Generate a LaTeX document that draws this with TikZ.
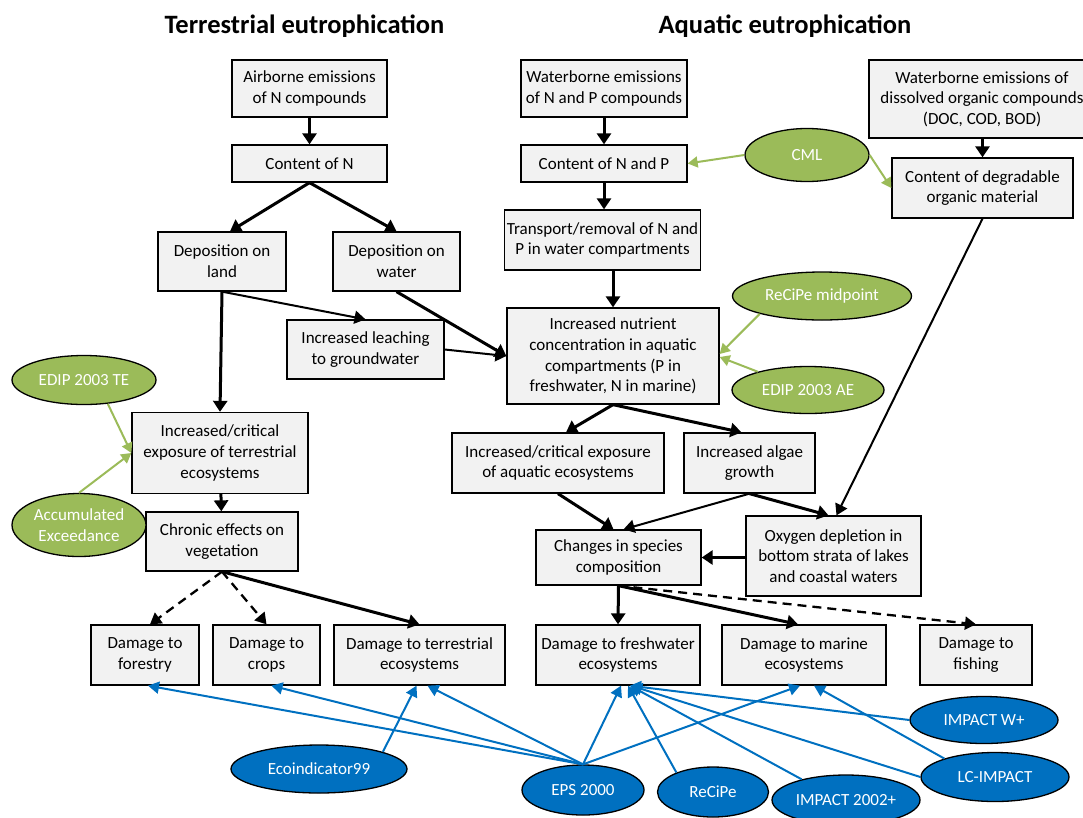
\documentclass[tikz,border=0pt]{standalone}
\usepackage{fontspec}
\setmainfont{Carlito}
\usetikzlibrary{arrows.meta,shapes.geometric,calc}
\definecolor{boxfill}{HTML}{F2F2F2}
\definecolor{lcagreen}{HTML}{9BBB59}
\definecolor{lcablue}{HTML}{0070C0}
\begin{document}
\begin{tikzpicture}[x=1pt,y=-1pt,
  font=\fontsize{17}{20.7}\selectfont,
  box/.style={draw=black, line width=1.3pt, fill=boxfill, align=center, inner sep=2pt},
  ell/.style={ellipse, draw=black, line width=1.3pt, text=white, align=center, inner sep=0pt},
  greenell/.style={ell, fill=lcagreen},
  blueell/.style={ell, fill=lcablue},
  thickarrow/.style={line width=3pt, -{Triangle[length=11pt,width=14pt]}},
  thinarrow/.style={line width=2pt, -{Triangle[length=11pt,width=13pt]}},
  dasharrow/.style={line width=2.3pt, dash pattern=on 9pt off 6pt, -{Triangle[length=11pt,width=13pt]}},
  grarrow/.style={draw=lcagreen, line width=2pt, -{Triangle[length=10pt,width=11pt]}},
  bluearrow/.style={draw=lcablue, line width=2pt, -{Triangle[length=11pt,width=12pt]}},
  titletext/.style={font=\fontsize{26.5}{30}\selectfont\bfseries, anchor=base}
]
\useasboundingbox (0,0) rectangle (1083,817);
\clip (0,0) rectangle (1083,817);

% titles (descenders cut as in the reference)
\begin{scope}
\clip (0,0) rectangle (1083,36);
\node[titletext] (ttl1) at (304.5,33) {Terrestrial eutrophication};
\node[titletext] (ttl2) at (785,33) {Aquatic eutrophication};
\end{scope}

% terrestrial boxes
\node[box, minimum width=155pt, minimum height=57pt] (air) at (309.5,88.5) {Airborne emissions\\of N compounds};
\node[box, minimum width=155pt, minimum height=37pt] (cN) at (309.5,163.5) {Content of N};
\node[box, minimum width=128pt, minimum height=59pt] (dland) at (222,261.5) {Deposition on\\land};
\node[box, minimum width=127pt, minimum height=59pt] (dwater) at (396.5,261.5) {Deposition on\\water};
\node[box, minimum width=157pt, minimum height=59pt] (leach) at (365.5,349.5) {Increased leaching\\to groundwater};
\node[box, minimum width=176pt, minimum height=81pt] (iterr) at (220,453) {Increased/critical\\exposure of terrestrial\\ecosystems};
\node[box, minimum width=152pt, minimum height=59pt] (chronic) at (222,541.5) {Chronic effects on\\vegetation};
\node[box, minimum width=108pt, minimum height=60pt] (forestry) at (145,655) {Damage to\\forestry};
\node[box, minimum width=107pt, minimum height=60pt] (crops) at (266.5,655) {Damage to\\crops};
\node[box, minimum width=171pt, minimum height=60pt] (terreco) at (419.5,655) {Damage to terrestrial\\ecosystems};

% aquatic boxes
\node[box, minimum width=166pt, minimum height=57pt] (wNP) at (604,88.5) {Waterborne emissions\\of N and P compounds};
\node[box, minimum width=166pt, minimum height=37pt] (cNP) at (604,163.5) {Content of N and P};
\node[box, minimum width=195pt, minimum height=60pt] (transp) at (602.5,240) {Transport/removal of N and\\P in water compartments};
\node[box, minimum width=226pt, minimum height=78pt] (wDOC) at (982,99) {Waterborne emissions of\\dissolved organic compounds\\(DOC, COD, BOD)};
\node[box, minimum width=181pt, minimum height=60pt] (cdeg) at (982.5,188) {Content of degradable\\organic material};
\node[box, minimum width=212pt, minimum height=96pt] (inut) at (613,356) {Increased nutrient\\concentration in aquatic\\compartments (P in\\freshwater, N in marine)};
\node[box, minimum width=212pt, minimum height=60pt] (iaq) at (558,463) {Increased/critical exposure\\of aquatic ecosystems};
\node[box, minimum width=131pt, minimum height=60pt] (algae) at (749.5,463) {Increased algae\\growth};
\node[box, minimum width=175pt, minimum height=80pt] (oxy) at (833.5,556) {Oxygen depletion in\\bottom strata of lakes\\and coastal waters};
\node[box, minimum width=165pt, minimum height=55pt] (changes) at (618.5,557.5) {Changes in species\\composition};
\node[box, minimum width=164pt, minimum height=60pt] (fresh) at (618,655) {Damage to freshwater\\ecosystems};
\node[box, minimum width=164pt, minimum height=60pt] (marine) at (804,655) {Damage to marine\\ecosystems};
\node[box, minimum width=112pt, minimum height=60pt] (fishing) at (976,655) {Damage to\\fishing};

% green method ellipses
\node[greenell, minimum width=144pt, minimum height=49pt] (edipTE) at (84,380) {\makebox[0pt]{EDIP 2003 TE}};
\node[greenell, minimum width=134pt, minimum height=63pt] (accum) at (79,525) {Accumulated\\Exceedance};
\node[greenell, minimum width=124pt, minimum height=53pt] (cml) at (807,155) {\makebox[0pt]{CML}};
\node[greenell, minimum width=179pt, minimum height=48pt] (recmid) at (822,296) {\makebox[0pt]{ReCiPe midpoint}};
\node[greenell, minimum width=152pt, minimum height=47pt] (edipAE) at (808,390) {\makebox[0pt]{EDIP 2003 AE}};

% blue method ellipses
\node[blueell, minimum width=176pt, minimum height=48pt] (eco99) at (319,769) {\makebox[0pt]{Ecoindicator99}};
\node[blueell, minimum width=148pt, minimum height=47pt] (impW) at (984,720) {\makebox[0pt]{IMPACT W+}};
\node[blueell, minimum width=148pt, minimum height=49pt] (lc) at (995,777) {\makebox[0pt]{LC-IMPACT}};
\node[blueell, minimum width=122pt, minimum height=50pt] (eps) at (583,790) {\makebox[0pt]{EPS 2000}};
\node[blueell, minimum width=111pt, minimum height=50pt] (recipe) at (713,792) {\makebox[0pt]{ReCiPe}};
\node[blueell, minimum width=148pt, minimum height=50pt] (imp2002) at (846,800) {\makebox[0pt]{IMPACT 2002+}};

% terrestrial chain
\draw[thickarrow] (air) -- (cN);
\draw[thickarrow] (cN.south) -- ($(dland.north)+(8,0)$);
\draw[thickarrow] (cN.south) -- (dwater.north);
\draw[thickarrow] (dland.south) -- (iterr.north);
\draw[thinarrow] (dland.south) -- (leach.north);
\draw[thickarrow] (dwater.south) -- (inut.west);
\draw[thinarrow] (leach.east) -- (inut.west);
\draw[thickarrow] (iterr) -- (chronic);
\draw[dasharrow] (chronic.south) -- ($(forestry.north)+(5,0)$);
\draw[dasharrow] (chronic.south) -- (crops.north);
\draw[thickarrow] (chronic.south) -- (terreco.north);

% aquatic chain
\draw[thickarrow] (wNP) -- (cNP);
\draw[thickarrow] (cNP.south) -- (cNP.south |- transp.north);
\draw[thickarrow] (transp.south -| inut.north) -- (inut.north);
\draw[thickarrow] (wDOC.south -| cdeg.north) -- (cdeg.north);
\draw[thinarrow] (cdeg.south) -- ($(oxy.north)+(3,0)$);
\draw[thickarrow] (inut.south) -- ($(iaq.north)+(8,0)$);
\draw[thickarrow] (inut.south) -- ($(algae.north)+(-8,0)$);
\draw[thickarrow] (iaq.south) -- ($(changes.north)+(-5,0)$);
\draw[thinarrow] (algae.south) -- ($(changes.north)+(5,0)$);
\draw[thickarrow] (algae.south) -- ($(oxy.north)+(-5,0)$);
\draw[thickarrow] (oxy.west |- changes.east) -- (changes.east);
\draw[thickarrow] (changes.south) -- (fresh.north);
\draw[thickarrow] (changes.south) -- ($(marine.north)+(-6,0)$);
\draw[dasharrow] (changes.south) -- (fishing.north);

% green method links
\draw[grarrow] (cml.west) -- (cNP.east);
\draw[grarrow] (cml.east) -- (cdeg.west);
\draw[grarrow] (recmid.196) -- ($(inut.east)+(0,-2)$);
\draw[grarrow] (edipAE.160) -- ($(inut.east)+(0,1)$);
\draw[grarrow] (edipTE.315) -- (iterr.west);
\draw[grarrow] (accum.north) -- (iterr.west);

% blue method links
\draw[bluearrow] (eps.north) -- ($(forestry.south)+(3,0)$);
\draw[bluearrow] (eps.north) -- ($(crops.south)+(5,0)$);
\draw[bluearrow] (eps.north) -- ($(terreco.south)+(8,0)$);
\draw[bluearrow] (eco99.15) -- ($(terreco.south)+(-3,0)$);
\draw[bluearrow] (eps.north) -- ($(fresh.south)+(3,0)$);
\draw[bluearrow] (eps.north) -- ($(marine.south)+(-4,0)$);
\draw[bluearrow] (recipe.152) -- ($(fresh.south)+(10,0)$);
\draw[bluearrow] (imp2002.155) -- ($(fresh.south)+(12,0)$);
\draw[bluearrow] (lc.180) -- ($(fresh.south)+(13,0)$);
\draw[bluearrow] (impW.180) -- ($(fresh.south)+(12,0)$);
\draw[bluearrow] (lc.160) -- ($(marine.south)+(10,0)$);
\end{tikzpicture}
\end{document}
